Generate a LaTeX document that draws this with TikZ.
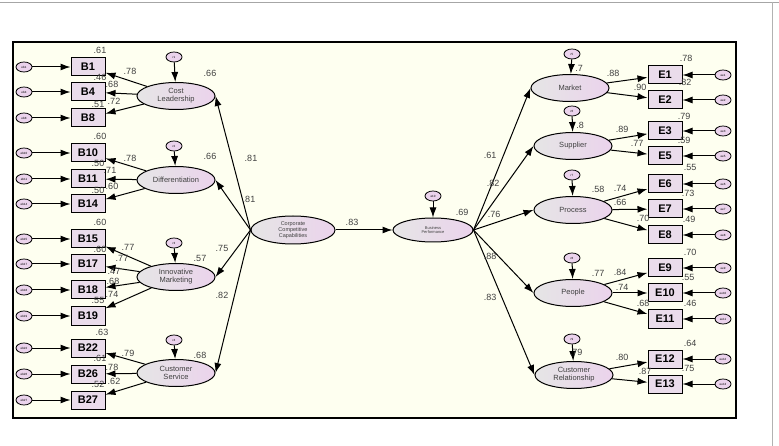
\documentclass[tikz,border=0pt]{standalone}
\usepackage{fontspec}
\setmainfont{Liberation Sans}
\usetikzlibrary{shapes.geometric,arrows.meta}
\definecolor{bg}{HTML}{FEFFF0}
\definecolor{boxf}{HTML}{EADCEB}
\definecolor{ellr}{HTML}{EBD3EC}
\begin{document}
\begin{tikzpicture}[x=1pt,y=-1pt,
 ind/.style={draw,line width=1pt,fill=boxf,minimum width=34pt,minimum height=18pt,inner sep=0,font=\bfseries\fontsize{11}{11}\selectfont},
 lat/.style={draw,line width=1pt,ellipse,left color=gray!20,right color=ellr,minimum width=78pt,minimum height=27pt,inner sep=0,align=center,font=\fontsize{7.5}{8}\selectfont,text=black!75},
 err/.style={draw,thick,ellipse,fill=ellr,minimum width=16pt,minimum height=10pt,inner sep=0,font=\fontsize{3}{3}\selectfont},
 arr/.style={line width=1pt,-{Latex[length=10pt,width=7pt]}},
 num/.style={font=\fontsize{9}{9}\selectfont,text=black!75,inner sep=0}]
\useasboundingbox (0,0) rectangle (779,446);
\draw[gray!70] (0,2) -- (779,2);
\draw[gray!60] (772,2) -- (772,446);
\fill[bg] (13,42) rectangle (736,418);
\draw[very thick] (13,42) rectangle (736,418);
% left side
\foreach \n/\y in {1/67,4/92,8/118,10/153,11/179,14/204,15/239,17/264,18/290,19/316,22/348,26/374,27/400}{
 \node[ind] (B\n) at (88,\y) {B\n};
 \node[err] (eb\n) at (24,\y) {eb\n};
 \draw[arr] (eb\n) -- (B\n);
}
\node[lat] (CL) at (176,96) {Cost\\Leadership};
\node[lat] (DF) at (176,180) {Differentiation};
\node[lat] (IM) at (176,277) {Innovative\\Marketing};
\node[lat] (CS) at (176,373) {Customer\\Service};
\foreach \f/\y/\r in {CL/57/r1,DF/146/r2,IM/243/r3,CS/340/r4}{
 \node[err] (\r) at (174,\y) {\r};
 \draw[arr] (\r) -- (\f);
}
\foreach \b in {1,4,8}{\draw[arr] (CL) -- (B\b);}
\foreach \b in {10,11,14}{\draw[arr] (DF) -- (B\b);}
\foreach \b in {15,17,18,19}{\draw[arr] (IM) -- (B\b);}
\foreach \b in {22,26,27}{\draw[arr] (CS) -- (B\b);}
% centre
\node[lat,minimum width=84pt,minimum height=28pt,font=\fontsize{5.5}{6}\selectfont] (CCC) at (293,230) {Corporate\\Competitive\\Capabilities};
\node[lat,minimum width=80pt,minimum height=24pt,font=\fontsize{4}{4.5}\selectfont] (BP) at (433,230) {Business\\Performance};
\node[err] (e10) at (433,196) {e10};
\draw[arr] (e10) -- (BP);
\foreach \f in {CL,DF,IM,CS}{\draw[arr] (CCC.west) -- (\f.east);}
\draw[arr] (CCC) -- (BP);
% right side
\node[lat] (MK) at (570,88) {Market};
\node[lat] (SU) at (573,146) {Supplier};
\node[lat] (PR) at (573,210) {Process};
\node[lat] (PE) at (573,293) {People};
\node[lat] (CR) at (574,375) {Customer\\Relationship};
\foreach \f/\y/\r in {MK/54/r5,SU/111/r6,PR/175/r7,PE/258/r8,CR/339/r9}{
 \node[err] (\r) at (572,\y) {\r};
 \draw[arr] (\r) -- (\f);
 \draw[arr] (BP.east) -- (\f.west);
}
\foreach \n/\y in {1/75,2/100,3/131,5/156,6/184,7/209,8/235,9/268,10/293,11/319,12/359,13/384}{
 \node[ind] (E\n) at (665,\y) {E\n};
 \node[err] (ee\n) at (723,\y) {ee\n};
 \draw[arr] (ee\n) -- (E\n);
}
\foreach \b in {1,2}{\draw[arr] (MK) -- (E\b);}
\foreach \b in {3,5}{\draw[arr] (SU) -- (E\b);}
\foreach \b in {6,7,8}{\draw[arr] (PR) -- (E\b);}
\foreach \b in {9,10,11}{\draw[arr] (PE) -- (E\b);}
\foreach \b in {12,13}{\draw[arr] (CR) -- (E\b);}
% numbers
\foreach \x/\y/\t in {
 100/50/.61, 130/71/.78, 100/77/.46, 112/84/.68, 98/104/.51, 114/101/.72, 210/73/.66,
 100/136/.60, 130/158/.78, 98/163/.50, 110/170/.71, 98/190/.50, 112/186/.60, 210/156/.66,
 100/222/.60, 128/247/.77, 100/249/.60, 122/258/.77, 114/271/.47, 113/281/.68, 112/294/.74, 98/300/.55, 200/258/.57,
 102/332/.63, 128/353/.79, 100/358/.61, 112/367/.78, 98/384/.52, 114/381/.62, 200/355/.68,
 251/158/.81, 249/199/.81, 222/248/.75, 222/295/.82, 352/222/.83, 462/212/.69,
 490/155/.61, 493/183/.82, 494/214/.76, 490/256/.88, 490/297/.83,
 579/68/.7, 580/125/.8, 598/189/.58, 598/273/.77, 576/352/.79,
 686/58/.78, 613/73/.88, 640/87/.90, 685/82/.82,
 684/116/.79, 622/129/.89, 637/143/.77, 684/140/.59,
 690/167/.55, 620/188/.74, 620/202/.66, 688/193/.73, 643/218/.70, 689/219/.49,
 690/252/.70, 620/272/.84, 622/287/.74, 688/277/.55, 643/303/.68, 690/303/.46,
 690/343/.64, 622/357/.80, 645/371/.87, 688/368/.75}{
 \node[num] at (\x,\y) {\t};
}
\end{tikzpicture}
\end{document}
